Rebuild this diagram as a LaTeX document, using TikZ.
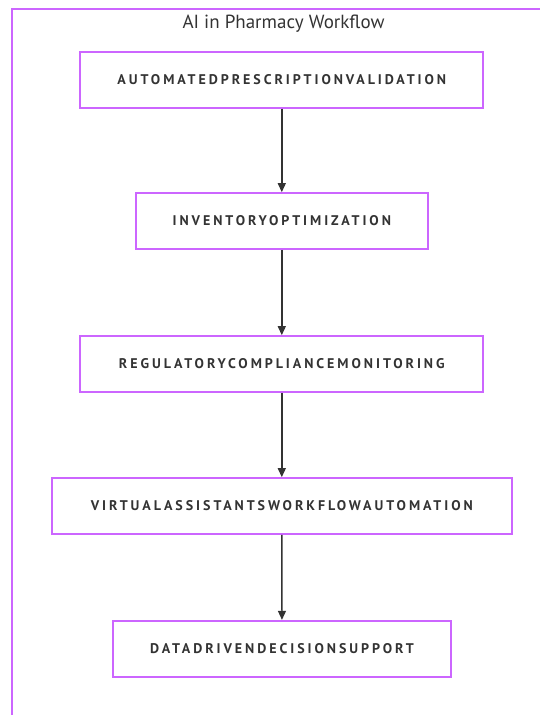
\documentclass[tikz,border=0pt]{standalone}
\usepackage{fontspec}
\setmainfont{PT Sans}
\newfontfamily\boxfont[LetterSpace=21]{PT Sans}
\usetikzlibrary{arrows.meta}
\definecolor{frame}{RGB}{204,102,255}
\definecolor{ink}{RGB}{51,51,51}
\tikzset{
  stepbox/.style={draw=frame, line width=1.7pt, fill=white, minimum height=56pt, inner sep=0pt,
    font=\boxfont\bfseries\fontsize{14pt}{16pt}\selectfont, text=ink},
  flow/.style={draw=ink, line width=1.4pt, -{Triangle[length=9pt,width=8pt]}}
}
\begin{document}
\begin{tikzpicture}[x=1pt,y=1pt]
\useasboundingbox (0,0) rectangle (540,715);
\draw[frame, line width=1.7pt] (12.3,0) -- (12.3,706) -- (540,706);
\node[text=ink, font=\fontsize{19pt}{22pt}\selectfont, anchor=base, inner sep=0pt] (title) at (283.5,686) {AI in Pharmacy Workflow};
\node[stepbox, minimum width=403pt] (a) at (281.8,635.3) {AUTOMATEDPRESCRIPTIONVALIDATION};
\node[stepbox, minimum width=292pt] (b) at (281.8,494) {INVENTORYOPTIMIZATION};
\node[stepbox, minimum width=403pt] (c) at (281.8,351) {REGULATORYCOMPLIANCEMONITORING};
\node[stepbox, minimum width=460pt] (d) at (281.8,209) {VIRTUALASSISTANTSWORKFLOWAUTOMATION};
\node[stepbox, minimum width=337.4pt] (e) at (282,66.3) {DATADRIVENDECISIONSUPPORT};
\draw[flow] (a) -- (b);
\draw[flow] (b) -- (c);
\draw[flow] (c) -- (d);
\draw[flow] (d) -- (e);
\end{tikzpicture}
\end{document}
